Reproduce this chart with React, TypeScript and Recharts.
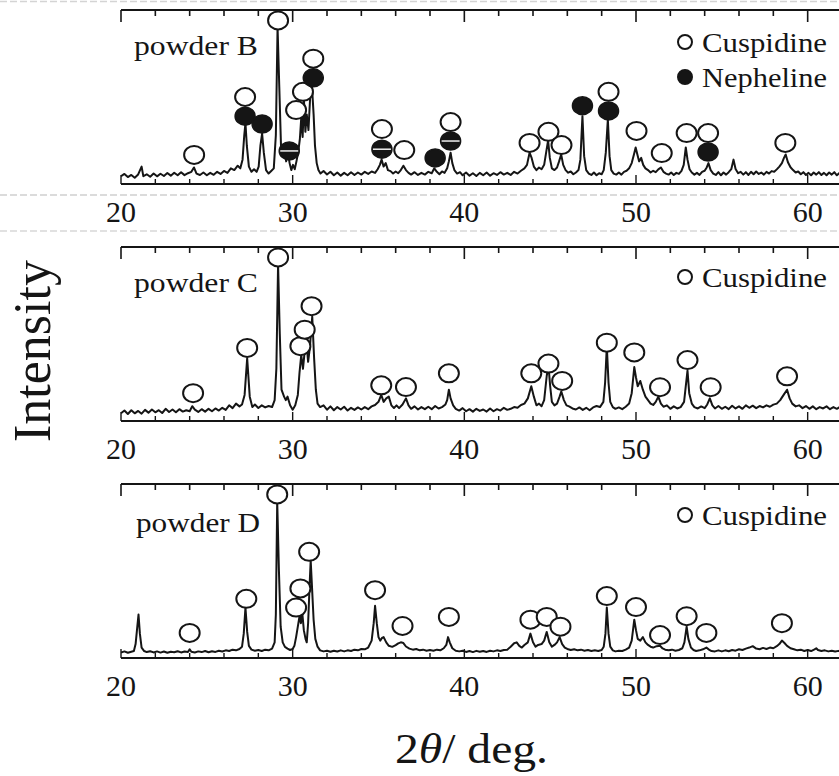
import React from 'react';
import { ComposedChart, Line, Scatter, XAxis, YAxis, ReferenceLine } from 'recharts';

// --- DATA (2theta in deg, intensity scaled so each frame is 0..100) ---
const TICKS = [20, 22, 24, 26, 28, 30, 32, 34, 36, 38, 40, 42, 44, 46, 48, 50, 52, 54, 56, 58, 60, 62];
const MAJOR_TICKS = [20, 30, 40, 50, 60];

const powderB: [number, number][] = [
  [20.0, 4.5], [20.2, 5.8], [20.4, 4.0], [20.6, 5.2], [20.8, 3.6], [21.0, 5.5], [21.2, 10], [21.3, 4.5], [21.5, 5.6], [21.7, 4.2],
  [21.9, 6.0], [22.1, 4.4], [22.3, 5.9], [22.5, 4.6], [22.7, 6.3], [22.9, 4.8], [23.1, 6.5], [23.3, 5.0], [23.5, 6.8], [23.7, 5.1],
  [23.9, 6.2], [24.1, 7.0], [24.25, 9.5], [24.4, 6.0], [24.6, 5.2], [24.8, 6.6], [25.0, 5.0], [25.2, 6.4], [25.4, 5.3], [25.6, 7.0],
  [25.8, 5.8], [26.0, 7.5], [26.2, 6.4], [26.4, 9.0], [26.6, 8.0], [26.8, 10.5], [26.95, 9], [27.08, 14], [27.18, 28], [27.25, 35],
  [27.33, 22], [27.45, 10], [27.6, 7], [27.75, 8.5], [27.9, 7], [28.02, 10], [28.12, 22], [28.22, 29], [28.32, 18], [28.45, 8],
  [28.6, 6], [28.75, 7.5], [28.9, 9], [29.02, 28], [29.12, 90], [29.22, 56], [29.32, 22], [29.42, 16], [29.52, 20], [29.62, 13],
  [29.72, 19], [29.82, 12], [29.92, 8], [30.02, 11], [30.12, 8.5], [30.22, 13], [30.32, 18], [30.42, 26], [30.5, 38], [30.58, 27],
  [30.66, 48], [30.74, 30], [30.82, 40], [30.92, 31], [31.02, 50], [31.12, 57], [31.22, 40], [31.3, 22], [31.4, 12], [31.5, 8],
  [31.62, 6], [31.8, 7.5], [32.0, 5.5], [32.2, 7.0], [32.4, 5.0], [32.6, 6.6], [32.8, 4.8], [33.0, 6.4], [33.2, 5.0], [33.4, 6.8],
  [33.6, 5.2], [33.8, 6.6], [34.0, 5.4], [34.2, 7.0], [34.4, 5.8], [34.6, 7.2], [34.8, 6.4], [34.95, 8.5], [35.08, 11], [35.18, 14],
  [35.3, 10], [35.42, 12], [35.55, 8], [35.7, 7.4], [35.85, 6], [36.0, 7.2], [36.15, 6.2], [36.3, 8], [36.45, 10.5], [36.6, 8],
  [36.75, 6.4], [36.9, 5.4], [37.1, 6.8], [37.3, 5.2], [37.5, 6.4], [37.7, 5.4], [37.9, 7], [38.1, 6.2], [38.25, 9], [38.4, 7],
  [38.55, 5.6], [38.7, 7.2], [38.85, 6.4], [39.0, 9], [39.1, 13], [39.2, 18], [39.3, 12], [39.42, 8], [39.58, 6], [39.75, 6.8],
  [39.9, 5.0], [40.1, 6.6], [40.3, 4.8], [40.5, 6.2], [40.7, 4.6], [40.9, 6.4], [41.1, 5.0], [41.3, 6.6], [41.5, 4.8], [41.7, 6.2],
  [41.9, 5.2], [42.1, 6.8], [42.3, 5.4], [42.5, 6.4], [42.7, 5.2], [42.9, 7.0], [43.1, 6.0], [43.3, 7.6], [43.5, 9], [43.65, 11],
  [43.8, 18], [43.92, 15], [44.05, 10], [44.2, 8], [44.35, 9.5], [44.5, 8.5], [44.65, 11], [44.78, 19], [44.88, 25], [44.98, 15],
  [45.1, 9], [45.25, 8], [45.4, 9.5], [45.52, 13], [45.64, 17], [45.76, 11], [45.9, 8], [46.05, 6.5], [46.2, 7.2], [46.35, 5.6],
  [46.5, 6.6], [46.65, 8], [46.76, 14], [46.88, 39], [46.98, 16], [47.1, 8], [47.25, 6], [47.4, 5.2], [47.55, 6.6], [47.7, 5.0],
  [47.85, 6.2], [48.0, 5.6], [48.12, 8], [48.24, 18], [48.36, 37], [48.46, 16], [48.56, 8], [48.7, 6], [48.85, 5.4], [49.0, 6.6],
  [49.15, 5.4], [49.3, 7], [49.45, 7.6], [49.6, 9], [49.75, 12], [49.88, 17], [49.98, 21], [50.08, 17], [50.18, 13], [50.3, 15],
  [50.42, 11], [50.55, 9], [50.7, 8], [50.85, 6.6], [51.0, 7.6], [51.15, 6.8], [51.3, 8.4], [51.45, 9.5], [51.6, 7], [51.75, 6],
  [51.9, 5.4], [52.05, 6.6], [52.2, 5.2], [52.35, 6.4], [52.5, 5.8], [52.65, 7.6], [52.78, 11], [52.9, 21], [53.0, 14], [53.12, 8.5],
  [53.25, 6.6], [53.4, 5.4], [53.55, 6.4], [53.7, 5.2], [53.85, 7], [54.0, 7.6], [54.12, 9.5], [54.22, 12], [54.35, 8], [54.5, 6],
  [54.65, 5.2], [54.8, 6.8], [54.95, 5.0], [55.1, 6.6], [55.25, 5.4], [55.4, 6.8], [55.55, 8.5], [55.68, 14], [55.8, 8.6], [55.95, 6.2],
  [56.1, 7.0], [56.25, 5.4], [56.4, 6.8], [56.55, 5.2], [56.7, 7.0], [56.85, 5.6], [57.0, 7.2], [57.15, 5.8], [57.3, 6.6], [57.45, 5.4],
  [57.6, 7.0], [57.75, 6.0], [57.9, 7.4], [58.05, 7.0], [58.2, 8.4], [58.35, 10], [58.5, 12], [58.62, 15], [58.72, 17], [58.85, 12.5],
  [59.0, 9.6], [59.15, 8], [59.3, 6.6], [59.45, 7.2], [59.6, 5.6], [59.75, 6.8], [59.9, 5.2], [60.05, 6.4], [60.2, 5.0], [60.35, 6.6],
  [60.5, 5.4], [60.65, 6.8], [60.8, 5.2], [60.95, 6.4], [61.1, 5.0], [61.25, 6.6], [61.4, 5.4], [61.55, 6.8], [61.7, 5.0], [61.85, 6.4],
  [62.0, 5.6],
];

const powderC: [number, number][] = [
  [20.0, 4.5], [20.2, 6], [20.4, 4], [20.6, 6.2], [20.8, 4.4], [21.0, 5.8], [21.2, 4.2], [21.4, 6.4], [21.6, 4.8], [21.8, 6.6],
  [22.0, 5.0], [22.2, 6.2], [22.4, 4.6], [22.6, 7.0], [22.8, 5.2], [23.0, 6.6], [23.2, 5.0], [23.4, 6.8], [23.6, 5.4], [23.8, 6.2],
  [24.0, 5.6], [24.15, 8.5], [24.3, 6.5], [24.5, 5.2], [24.7, 6.8], [24.9, 5.4], [25.1, 7.0], [25.3, 5.6], [25.5, 7.2], [25.7, 6.0],
  [25.9, 7.6], [26.1, 6.4], [26.3, 9.0], [26.5, 7.4], [26.7, 10.0], [26.9, 8.4], [27.05, 9.5], [27.2, 15], [27.35, 36], [27.5, 14],
  [27.65, 8], [27.8, 9.5], [28.0, 7.5], [28.2, 9], [28.4, 7.8], [28.6, 8.6], [28.8, 8.0], [28.95, 12], [29.05, 30], [29.15, 90],
  [29.25, 50], [29.35, 18], [29.5, 14], [29.6, 12], [29.7, 14], [29.85, 9], [30.0, 6.5], [30.15, 9], [30.3, 15], [30.4, 28],
  [30.5, 38], [30.6, 30], [30.7, 40], [30.8, 46], [30.9, 34], [31.0, 42], [31.14, 60], [31.25, 36], [31.35, 18], [31.45, 10],
  [31.6, 8], [31.8, 9], [32.0, 6.5], [32.2, 8.4], [32.4, 6.2], [32.6, 8.0], [32.8, 6.6], [33.0, 8.2], [33.2, 6.0], [33.4, 7.6],
  [33.6, 6.4], [33.8, 7.8], [34.0, 6.6], [34.2, 8.0], [34.4, 6.8], [34.6, 8.4], [34.8, 9.2], [35.0, 11], [35.16, 15], [35.3, 11],
  [35.45, 13], [35.6, 14], [35.75, 9], [35.9, 7.5], [36.05, 9], [36.2, 7.4], [36.4, 9.5], [36.6, 13], [36.75, 9], [36.9, 7],
  [37.1, 8.4], [37.3, 6.6], [37.5, 8.0], [37.7, 6.8], [37.9, 8.2], [38.1, 6.8], [38.3, 8.6], [38.5, 7.2], [38.7, 8.0], [38.9, 9.5],
  [39.0, 12], [39.1, 18], [39.2, 13], [39.35, 9], [39.5, 7], [39.7, 6.0], [39.9, 7.4], [40.1, 5.6], [40.3, 6.8], [40.5, 5.4],
  [40.7, 7.0], [40.9, 5.8], [41.1, 6.6], [41.3, 5.4], [41.5, 7.2], [41.7, 5.6], [41.9, 6.8], [42.1, 6.0], [42.3, 7.6], [42.5, 6.4],
  [42.7, 7.0], [42.9, 8.0], [43.1, 7.6], [43.3, 9.2], [43.5, 10], [43.7, 13], [43.9, 20], [44.05, 14], [44.2, 9], [44.35, 10],
  [44.5, 8.5], [44.65, 12], [44.8, 26], [44.9, 32], [45.0, 20], [45.1, 11], [45.25, 9], [45.4, 10], [45.55, 14], [45.65, 17],
  [45.8, 12], [45.95, 9], [46.1, 8.4], [46.3, 7.2], [46.5, 6.6], [46.7, 7.8], [46.9, 6.4], [47.1, 7.6], [47.3, 6.2], [47.5, 7.8],
  [47.7, 8.6], [47.9, 8.0], [48.1, 11], [48.2, 22], [48.3, 43], [48.4, 22], [48.5, 11], [48.65, 8], [48.8, 7], [49.0, 7.8],
  [49.2, 6.8], [49.4, 8.2], [49.6, 10], [49.75, 16], [49.9, 31], [50.0, 25], [50.1, 20], [50.25, 23], [50.4, 18], [50.55, 14],
  [50.7, 12], [50.85, 10], [51.0, 9.2], [51.15, 11], [51.3, 14], [51.45, 10], [51.6, 8.2], [51.8, 9], [52.0, 7], [52.2, 8.4],
  [52.4, 7.2], [52.6, 8.0], [52.8, 11], [52.9, 20], [53.0, 29], [53.1, 16], [53.25, 10], [53.4, 8], [53.6, 7.2], [53.8, 8.4],
  [54.0, 7.4], [54.15, 9.5], [54.3, 13], [54.45, 9], [54.6, 7.2], [54.8, 8.6], [55.0, 7.0], [55.2, 8.2], [55.4, 6.8], [55.6, 8.8],
  [55.8, 7.2], [56.0, 8.4], [56.2, 7.0], [56.4, 9.0], [56.6, 7.6], [56.8, 8.8], [57.0, 7.4], [57.2, 8.6], [57.4, 7.8], [57.6, 9.0],
  [57.8, 8.2], [58.0, 9.4], [58.2, 10], [58.4, 12], [58.6, 15], [58.8, 18], [58.95, 13], [59.1, 10], [59.3, 8.4], [59.5, 9.0],
  [59.7, 7.4], [59.9, 8.6], [60.1, 7.0], [60.3, 8.4], [60.5, 6.8], [60.7, 8.0], [60.9, 7.2], [61.1, 8.4], [61.3, 6.8], [61.5, 8.0],
  [61.7, 7.0], [61.9, 8.2], [62.0, 7.4],
];

const powderD: [number, number][] = [
  [20.0, 3.2], [20.2, 3.8], [20.4, 3.0], [20.6, 3.6], [20.75, 4.0], [20.85, 8], [20.95, 18], [21.02, 25], [21.1, 14], [21.2, 6],
  [21.35, 4.0], [21.5, 3.4], [21.7, 3.9], [21.9, 3.2], [22.1, 3.8], [22.3, 3.1], [22.5, 3.7], [22.7, 3.0], [22.9, 3.6], [23.1, 3.3],
  [23.3, 3.9], [23.5, 3.2], [23.7, 3.7], [23.9, 3.4], [24.0, 5.0], [24.1, 3.6], [24.3, 3.2], [24.5, 3.8], [24.7, 3.4], [24.9, 4.0],
  [25.1, 3.3], [25.3, 3.9], [25.5, 3.5], [25.7, 4.2], [25.9, 3.7], [26.1, 4.4], [26.3, 4.0], [26.5, 4.8], [26.7, 4.4], [26.9, 5.2],
  [27.05, 6.5], [27.15, 14], [27.25, 29], [27.35, 15], [27.45, 7], [27.6, 4.8], [27.8, 4.2], [28.0, 4.6], [28.2, 4.0], [28.4, 4.8],
  [28.6, 4.4], [28.8, 5.4], [28.95, 9], [29.02, 25], [29.1, 90], [29.2, 50], [29.3, 18], [29.42, 9], [29.55, 6.4], [29.7, 5.4],
  [29.85, 4.6], [30.0, 5.2], [30.1, 7], [30.2, 12], [30.3, 18], [30.4, 24], [30.48, 20], [30.55, 27], [30.65, 16], [30.75, 11],
  [30.82, 9], [30.9, 20], [31.0, 45], [31.05, 56], [31.12, 42], [31.22, 22], [31.32, 11], [31.45, 6.5], [31.6, 4.4], [31.8, 3.8],
  [32.0, 4.2], [32.2, 3.6], [32.4, 4.2], [32.6, 3.7], [32.8, 4.4], [33.0, 3.8], [33.2, 4.4], [33.4, 4.0], [33.6, 4.8], [33.8, 4.4],
  [34.0, 5.2], [34.2, 5.0], [34.4, 6.0], [34.6, 10], [34.72, 20], [34.8, 30], [34.9, 20], [35.0, 12], [35.1, 10], [35.2, 11.5],
  [35.3, 12], [35.45, 9], [35.6, 7], [35.8, 6.4], [36.0, 7.4], [36.15, 8.4], [36.3, 9], [36.45, 8.6], [36.6, 6.6], [36.8, 5.4],
  [37.0, 4.8], [37.2, 5.2], [37.4, 4.4], [37.6, 4.8], [37.8, 4.2], [38.0, 4.6], [38.2, 4.2], [38.4, 4.8], [38.6, 4.4], [38.8, 5.6],
  [38.95, 7.5], [39.05, 12], [39.15, 9], [39.3, 5.6], [39.5, 4.2], [39.7, 3.8], [39.9, 4.2], [40.1, 3.5], [40.3, 4.0], [40.5, 3.4],
  [40.7, 4.1], [40.9, 3.6], [41.1, 4.0], [41.3, 3.5], [41.5, 4.2], [41.7, 3.8], [41.9, 4.4], [42.1, 4.0], [42.3, 4.6], [42.5, 4.8],
  [42.7, 6.5], [42.9, 8.5], [43.05, 9], [43.2, 7], [43.35, 6], [43.5, 7.5], [43.7, 9], [43.85, 14], [44.0, 9], [44.15, 6.5],
  [44.3, 7.5], [44.5, 8], [44.65, 10], [44.8, 15], [44.95, 9], [45.1, 6.5], [45.25, 7.5], [45.4, 9], [45.55, 12], [45.7, 8],
  [45.85, 6], [46.0, 5.2], [46.2, 4.6], [46.4, 5.0], [46.6, 4.4], [46.8, 4.8], [47.0, 4.2], [47.2, 4.6], [47.4, 4.0], [47.6, 4.4],
  [47.8, 4.0], [48.0, 4.6], [48.12, 6.5], [48.22, 14], [48.3, 29], [48.4, 14], [48.5, 6.5], [48.65, 4.4], [48.8, 3.8], [49.0, 4.2],
  [49.2, 4.0], [49.4, 4.8], [49.6, 6], [49.75, 10], [49.9, 22], [50.0, 16], [50.1, 11], [50.25, 10], [50.4, 12], [50.55, 9],
  [50.7, 7.5], [50.85, 6.5], [51.0, 6], [51.2, 6.8], [51.4, 7], [51.55, 5.5], [51.7, 4.8], [51.9, 4.4], [52.1, 4.8], [52.3, 4.2],
  [52.5, 4.6], [52.7, 5.6], [52.82, 9], [52.95, 18], [53.05, 11], [53.2, 6], [53.35, 4.6], [53.5, 4.0], [53.7, 4.4], [53.9, 5.0],
  [54.1, 6], [54.25, 4.8], [54.4, 4.0], [54.6, 3.8], [54.8, 4.4], [55.0, 3.8], [55.2, 4.4], [55.4, 3.9], [55.6, 4.6], [55.8, 4.2],
  [56.0, 5.0], [56.2, 4.6], [56.4, 5.4], [56.6, 6.0], [56.8, 6.8], [57.0, 5.4], [57.2, 5.0], [57.4, 5.8], [57.6, 5.2], [57.8, 6.0],
  [58.0, 5.6], [58.2, 6.8], [58.35, 8], [58.5, 10], [58.65, 8.6], [58.8, 7.0], [59.0, 5.6], [59.2, 5.0], [59.4, 4.4], [59.6, 4.8],
  [59.8, 4.0], [60.0, 4.6], [60.2, 4.0], [60.4, 5.0], [60.5, 5.6], [60.6, 4.6], [60.8, 4.0], [61.0, 4.4], [61.2, 3.8], [61.4, 4.2],
  [61.6, 3.7], [61.8, 4.1], [62.0, 3.8],
];

// phase markers (position of the symbol, deg / scaled intensity)
const cuspidineB: [number, number][] = [
  [24.26, 16.7], [27.23, 50], [29.15, 94], [30.2, 42.5], [30.6, 53], [31.2, 72], [35.2, 31.6], [36.5, 19.5], [39.2, 35.6],
  [43.8, 23.6], [44.9, 30], [45.66, 22.4], [48.4, 53], [50.03, 30.5], [51.5, 17.8], [52.95, 29.3], [54.2, 29.3], [58.7, 23.6],
];
const nephelineB: [number, number][] = [
  [27.23, 39], [28.22, 34.5], [31.2, 61], [38.3, 15], [46.88, 45], [48.4, 42], [54.2, 18.4],
];
const nephelineSplitB: [number, number][] = [
  [29.8, 19], [35.2, 20], [39.2, 24.7],
];
const cuspidineC: [number, number][] = [
  [24.2, 16], [27.35, 42], [29.15, 94], [30.45, 43], [30.7, 52.5], [31.1, 66], [35.16, 20.5], [36.6, 19.5], [39.1, 27.4],
  [43.9, 27.4], [44.9, 33], [45.7, 23], [48.3, 45], [49.9, 39.4], [51.4, 19.4], [53.0, 35], [54.35, 19.4], [58.8, 25.7],
];
const cuspidineD: [number, number][] = [
  [24.0, 14.4], [27.3, 34], [29.1, 94], [30.2, 29], [30.45, 40], [30.96, 61], [34.8, 39], [36.4, 18.4], [39.1, 23.6],
  [43.85, 22], [44.8, 23.6], [45.6, 18], [48.3, 35.6], [50.0, 29.3], [51.4, 13.2], [52.95, 24], [54.1, 14.4], [58.5, 20],
];

const INK = '#151515';
const FONT = '"Liberation Serif", "Times New Roman", serif';

// chart geometry
const MT = 10;
const PLOT_H = 174;
const AXIS_H = 50;
const PLOT_LEFT = 121;
const CHART_W = 852;

const toPts = (arr: [number, number][]) => arr.map(([x, y]) => ({ x, y }));

const FrameTick = (props: any) => {
  const { x, payload } = props;
  const major = MAJOR_TICKS.includes(payload.value);
  const bottom = MT + PLOT_H;
  return (
    <g>
      <line x1={x} x2={x} y1={MT} y2={MT + (major ? 12 : 6)} stroke={INK} strokeWidth={1.6} />
      <line x1={x} x2={x} y1={bottom} y2={bottom - (major ? 9 : 5)} stroke={INK} strokeWidth={1.4} />
      {major && (
        <text x={x} y={bottom + 38} textAnchor="middle" fontFamily={FONT} fontSize={30} fill={INK}>
          {payload.value}
        </text>
      )}
    </g>
  );
};

const OpenMark = (p: any) => (
  <ellipse cx={p.cx} cy={p.cy} rx={10} ry={9} fill="#fff" stroke={INK} strokeWidth={2} />
);
const FilledMark = (p: any) => (
  <ellipse cx={p.cx} cy={p.cy} rx={10} ry={9} fill={INK} stroke={INK} strokeWidth={1.5} />
);
const SplitMark = (p: any) => (
  <g>
    <ellipse cx={p.cx} cy={p.cy} rx={10} ry={9} fill={INK} stroke={INK} strokeWidth={1.5} />
    <line x1={p.cx - 9} x2={p.cx + 9} y1={p.cy} y2={p.cy} stroke="#fff" strokeWidth={1.4} />
  </g>
);

interface PanelProps {
  top: number;
  data: [number, number][];
  open: [number, number][];
  filled?: [number, number][];
  split?: [number, number][];
}

const Panel = ({ top, data, open, filled = [], split = [] }: PanelProps) => (
  <div style={{ position: 'absolute', left: 0, top: top - MT }}>
    <ComposedChart
      width={CHART_W}
      height={MT + PLOT_H + AXIS_H}
      margin={{ top: MT, right: 10, bottom: 0, left: PLOT_LEFT }}
    >
      <XAxis
        type="number"
        dataKey="x"
        domain={[20, 62]}
        ticks={TICKS}
        interval={0}
        allowDataOverflow
        height={AXIS_H}
        tickLine={false}
        axisLine={{ stroke: INK, strokeWidth: 2 }}
        tick={(p: any) => <FrameTick {...p} />}
      />
      <YAxis
        type="number"
        dataKey="y"
        domain={[0, 100]}
        allowDataOverflow
        width={0}
        tick={false}
        tickLine={false}
        axisLine={{ stroke: INK, strokeWidth: 2 }}
      />
      <ReferenceLine y={100} stroke={INK} strokeWidth={2} />
      <Line
        data={toPts(data)}
        dataKey="y"
        type="linear"
        stroke={INK}
        strokeWidth={2}
        strokeLinejoin="round"
        dot={false}
        isAnimationActive={false}
      />
      <Scatter data={toPts(open)} dataKey="y" shape={OpenMark} isAnimationActive={false} />
      {filled.length > 0 && (
        <Scatter data={toPts(filled)} dataKey="y" shape={FilledMark} isAnimationActive={false} />
      )}
      {split.length > 0 && (
        <Scatter data={toPts(split)} dataKey="y" shape={SplitMark} isAnimationActive={false} />
      )}
    </ComposedChart>
  </div>
);

const Legend = ({ cy, filled, label }: { cy: number; filled?: boolean; label: string }) => (
  <g>
    <circle cx={685} cy={cy} r={7} fill={filled ? INK : '#fff'} stroke={INK} strokeWidth={2} />
    <text x={702} y={cy + 10} fontFamily={FONT} fontSize={28} fill={INK} textLength={125} lengthAdjust="spacingAndGlyphs">
      {label}
    </text>
  </g>
);

const PanelLabel = ({ x, y, label }: { x: number; y: number; label: string }) => (
  <text x={x} y={y} fontFamily={FONT} fontSize={28} fill={INK} textLength={124} lengthAdjust="spacingAndGlyphs">
    {label}
  </text>
);

export default function App() {
  return (
    <div style={{ position: 'absolute', left: 0, top: 0, width: 839, height: 776, overflow: 'hidden', background: '#fff' }}>
      <Panel top={10} data={powderB} open={cuspidineB} filled={nephelineB} split={nephelineSplitB} />
      <Panel top={247} data={powderC} open={cuspidineC} />
      <Panel top={484} data={powderD} open={cuspidineD} />
      <svg width={839} height={776} style={{ position: 'absolute', left: 0, top: 0, pointerEvents: 'none' }}>
        {/* faint scan separators */}
        <line x1={0} x2={839} y1={1.5} y2={1.5} stroke="#d4d4d4" strokeWidth={1.5} strokeDasharray="7 3" />
        <line x1={0} x2={839} y1={195} y2={195} stroke="#cfcfcf" strokeWidth={1.5} strokeDasharray="7 3" />
        <line x1={0} x2={839} y1={231} y2={231} stroke="#d8d8d8" strokeWidth={1.5} strokeDasharray="7 3" />

        <PanelLabel x={134} y={55} label="powder B" />
        <PanelLabel x={134} y={292} label="powder C" />
        <PanelLabel x={136} y={532} label="powder D" />

        <Legend cy={42} label="Cuspidine" />
        <Legend cy={77} filled label="Nepheline" />
        <Legend cy={277} label="Cuspidine" />
        <Legend cy={515} label="Cuspidine" />

        <text
          transform="translate(50, 351) rotate(-90)"
          textAnchor="middle"
          fontFamily={FONT}
          fontSize={52}
          fill={INK}
        >
          Intensity
        </text>
        <text x={395} y={763} fontFamily={FONT} fontSize={42} fill={INK} textLength={153} lengthAdjust="spacingAndGlyphs">
          2<tspan fontStyle="italic">θ</tspan>/ deg.
        </text>
      </svg>
    </div>
  );
}
